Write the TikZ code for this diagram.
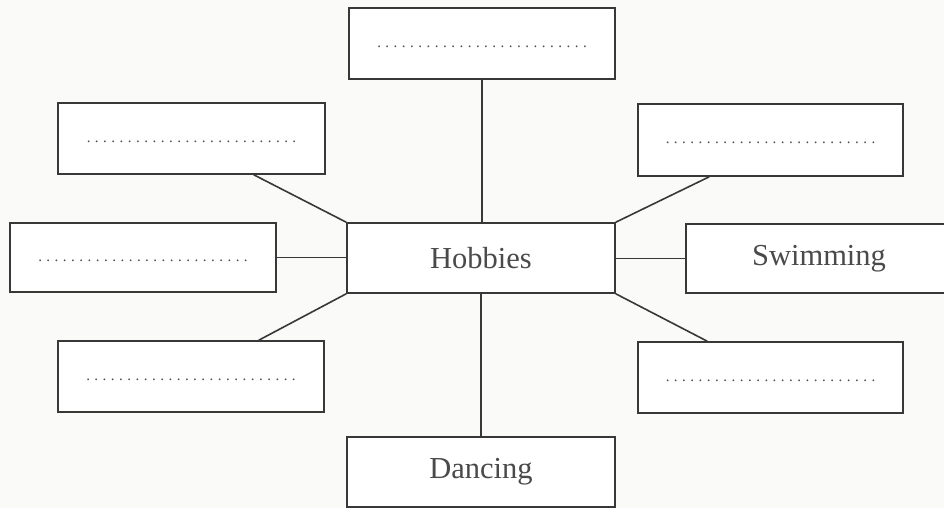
\documentclass[tikz,border=0pt]{standalone}
\usepackage{fontspec}
\setmainfont{Liberation Serif}
\definecolor{bgc}{HTML}{FAFAF8}
\definecolor{linec}{HTML}{383838}
\definecolor{textc}{HTML}{4A4A4A}
\newcommand\dotrow{\fontsize{15}{16}\selectfont\hbox to 214pt{\xleaders\hbox to 8.2pt{\hss.\hss}\hfill}}
\begin{document}
\begin{tikzpicture}[x=1pt,y=-1pt,
  box/.style={draw=linec, line width=1.6pt, fill=white, inner sep=0pt,
    text=textc, font=\fontsize{30.5}{36}\selectfont},
  conn/.style={draw=linec, line width=1.6pt},
  dots/.style={text=textc, inner sep=0pt, yshift=-3pt}]
\useasboundingbox[fill=bgc] (0,0) rectangle (944,508);
\node[box, minimum width=266pt, minimum height=71pt] (top) at (482,43.5) {};
\node[box, minimum width=267pt, minimum height=71pt] (ul) at (191.5,138.5) {};
\node[box, minimum width=266pt, minimum height=69pt] (ml) at (143,257.5) {};
\node[box, minimum width=268pt, minimum height=70pt] (hob) at (481,258) {Hobbies};
\node[box, minimum width=266pt, minimum height=71pt] (ll) at (191,376.5) {};
\node[box, minimum width=265pt, minimum height=72pt] (ur) at (770.5,140) {};
\node[box, minimum width=266pt, minimum height=69pt] (sw) at (819,258.5) {\raisebox{-2pt}{Swimming}};
\node[box, minimum width=265pt, minimum height=71pt] (lr) at (770.5,377.5) {};
\node[box, minimum width=268pt, minimum height=70pt] (dan) at (481,472) {Dancing};
\foreach \b in {top,ul,ml,ll,ur,lr} \node[dots] (d\b) at (\b.center) {\dotrow};
\draw[conn] (top.south) -- (top.south |- hob.north);
\draw[conn] ([xshift=-72pt]ul.south east) -- (hob.north west);
\draw[conn] (ml.east) -- (ml.east -| hob.west);
\draw[conn] ([xshift=-66pt]ll.north east) -- (hob.south west);
\draw[conn] ([xshift=72pt]ur.south west) -- (hob.north east);
\draw[conn] (hob.east |- sw.west) -- (sw.west);
\draw[conn] ([xshift=70pt]lr.north west) -- (hob.south east);
\draw[conn] (hob.south) -- (dan.north);
\end{tikzpicture}
\end{document}
